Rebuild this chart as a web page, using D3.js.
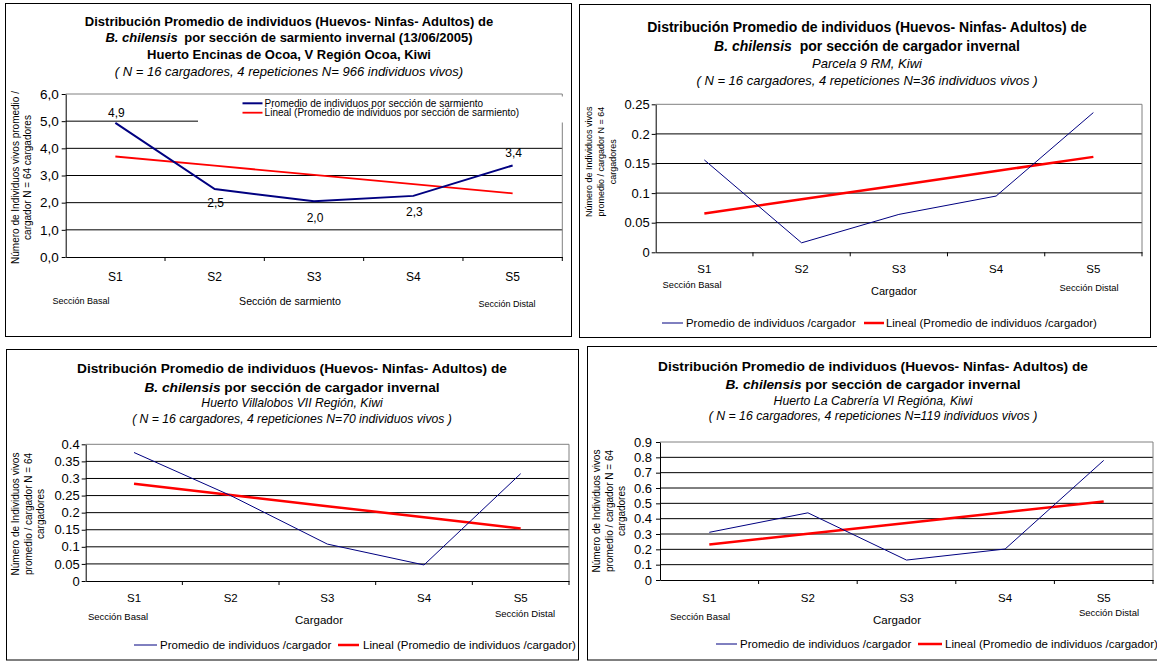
<!DOCTYPE html>
<html><head><meta charset="utf-8">
<script src="https://cdn.jsdelivr.net/npm/d3@7"></script>
<style>
body{margin:0;background:#fff;overflow:hidden}
svg{display:block}
text{font-family:"Liberation Sans",Arial,Helvetica,sans-serif;fill:#000}
</style>
</head><body>
<svg id="c" width="1157" height="661"></svg>
<script>
// ---------- DATA ----------
const categories = ["S1", "S2", "S3", "S4", "S5"];

const valuesOcoa = [4.94, 2.50, 2.05, 2.25, 3.37];
const labelsOcoa = ["4,9", "2,5", "2,0", "2,3", "3,4"];
const ticksOcoa = [0, 1, 2, 3, 4, 5, 6];

const valuesParcela = [0.156, 0.016, 0.064, 0.095, 0.236];
const ticksParcela = [0, 0.05, 0.1, 0.15, 0.2, 0.25];

const valuesVillalobos = [0.376, 0.25, 0.108, 0.047, 0.314];
const ticksVillalobos = [0, 0.05, 0.1, 0.15, 0.2, 0.25, 0.3, 0.35, 0.4];

const valuesCabreria = [0.311, 0.438, 0.13, 0.202, 0.78];
const ticksCabreria = [0, 0.1, 0.2, 0.3, 0.4, 0.5, 0.6, 0.7, 0.8, 0.9];

const titleMain = "Distribución Promedio de individuos (Huevos- Ninfas- Adultos) de";
const speciesName = "B. chilensis";
const yLabelOcoa = ["Número de Individuos vivos promedio /", "cargador N = 64 cargadores"];
const yLabelOther = ["Número de Individuos vivos", "promedio / cargador N = 64", "cargadores"];
const legendOcoa = ["Promedio de individuos por sección de sarmiento", "Lineal (Promedio de individuos por sección de sarmiento)"];
const legendOther = ["Promedio de individuos /cargador", "Lineal (Promedio de individuos /cargador)"];

// ---------- HELPERS ----------
function linearTrend(vals) {
  const xs = vals.map((_, i) => i + 1);
  const mx = d3.mean(xs), my = d3.mean(vals);
  const slope = d3.sum(xs, (x, i) => (x - mx) * (vals[i] - my)) / d3.sum(xs, x => (x - mx) * (x - mx));
  return xs.map(x => my + slope * (x - mx));
}
const fmtComma = d => d.toFixed(1).replace(".", ",");
const fmtPlain = d => String(+d.toFixed(2));

const svg = d3.select("#c");

function drawPanel(c) {
  const g = svg.append("g");
  g.append("rect").attr("x", c.box[0] + 0.5).attr("y", c.box[1] + 0.5)
    .attr("width", c.box[2]).attr("height", c.box[3])
    .attr("fill", "#fff").attr("stroke", "#000").attr("stroke-width", 1);

  // title
  c.title.forEach((ln, i) => {
    const t = g.append("text").attr("x", c.titleX).attr("y", c.titleY[i] + 0.35 * ln.size)
      .attr("text-anchor", "middle").style("font-size", ln.size + "px");
    ln.segs.forEach(s => {
      t.append("tspan").text(s.t)
        .style("font-weight", s.b ? "bold" : "normal")
        .style("font-style", s.i ? "italic" : "normal")
        .attr("dx", s.dx || 0);
    });
  });

  const x = d3.scaleBand().domain(categories).range([c.plot.left, c.plot.right]);
  const y = d3.scaleLinear().domain([0, c.yMax]).range([c.plot.bottom, c.plot.top]);
  const cx = d => x(d) + x.bandwidth() / 2;

  // gridlines
  g.append("g").selectAll("line").data(c.ticks.filter(t => t > 0 && t < c.yMax)).join("line")
    .attr("x1", c.plot.left).attr("x2", c.plot.right)
    .attr("y1", d => y(d)).attr("y2", d => y(d))
    .attr("stroke", "#000").attr("stroke-width", 1);
  // top & right plot border (gray)
  g.append("path").attr("d", `M${c.plot.left},${y(c.yMax)}H${c.plot.right}V${c.plot.bottom}`)
    .attr("fill", "none").attr("stroke", "#808080").attr("stroke-width", 1);

  // y axis
  const ya = g.append("g").attr("transform", `translate(${c.plot.left},0)`)
    .call(d3.axisLeft(y).tickValues(c.ticks).tickFormat(c.fmt).tickSize(4).tickSizeOuter(0).tickPadding(c.yPad));
  ya.selectAll("text").style("font-size", c.tickFs + "px").style("font-family", null);
  ya.selectAll("line,path").attr("stroke", "#000");

  // x axis (labels at band centres)
  const fsX = c.xFs;
  const xa = g.append("g").attr("transform", `translate(0,${c.plot.bottom})`)
    .call(d3.axisBottom(x).tickSize(0).tickSizeOuter(0).tickPadding(c.xLabelCy - c.plot.bottom - 0.36 * fsX));
  xa.selectAll("text").style("font-size", fsX + "px").style("font-family", null);
  xa.select("path").attr("stroke", "#000");
  // boundary tick marks
  const bounds = categories.map(d => x(d)).concat([c.plot.right]).slice(1);
  g.append("g").selectAll("line").data(bounds).join("line")
    .attr("x1", d => d).attr("x2", d => d)
    .attr("y1", c.plot.bottom).attr("y2", c.plot.bottom + 4)
    .attr("stroke", "#000");

  // annotations under axis
  c.notes.forEach(n => {
    g.append("text").attr("x", n.x).attr("y", n.y + 0.35 * n.size).attr("text-anchor", "middle")
      .style("font-size", n.size + "px").text(n.t);
  });

  // y label
  c.yLabel.forEach((t, i) => {
    g.append("text")
      .attr("transform", `translate(${c.yLabelX[i] + 0.35 * c.yLabelFs},${c.yLabelCy}) rotate(-90)`)
      .attr("text-anchor", "middle").style("font-size", c.yLabelFs + "px").text(t);
  });

  // trend line
  const trend = linearTrend(c.values);
  const line = d3.line().x((d, i) => cx(categories[i])).y(d => y(d));
  g.append("path").datum(trend).attr("d", line)
    .attr("fill", "none").attr("stroke", "#ff0000").attr("stroke-width", c.redW);
  // data line
  g.append("path").datum(c.values).attr("d", line)
    .attr("fill", "none").attr("stroke", "#000080").attr("stroke-width", c.blueW)
    .attr("stroke-linejoin", "miter");

  // data labels
  if (c.labels) {
    g.append("g").selectAll("text").data(c.values).join("text")
      .attr("x", (d, i) => cx(categories[i]) + 1)
      .attr("y", (d, i) => y(d) + c.labelDy[i] + 0.35 * c.labelFs)
      .attr("text-anchor", "middle").style("font-size", c.labelFs + "px")
      .text((d, i) => c.labels[i]);
  }

  // legend
  const L = c.legend;
  if (L.box) {
    g.append("rect").attr("x", L.box[0]).attr("y", L.box[1]).attr("width", L.box[2]).attr("height", L.box[3])
      .attr("fill", "#fff");
  }
  L.items.forEach((it, i) => {
    g.append("line").attr("x1", it.x1).attr("x2", it.x2).attr("y1", it.y).attr("y2", it.y)
      .attr("stroke", i === 0 ? "#000080" : "#ff0000").attr("stroke-width", i === 0 ? c.blueW : c.redW);
    g.append("text").attr("x", it.tx).attr("y", it.y + 0.35 * L.size)
      .style("font-size", L.size + "px").text(c.legendText[i]);
  });
}

// ---------- PANEL 1 ----------
drawPanel({
  box: [5, 3, 566, 333],
  plot: {left: 65.7, right: 562.3, top: 94, bottom: 257},
  yMax: 6, ticks: ticksOcoa, fmt: fmtComma, tickFs: 13.5, yPad: 3,
  xFs: 12, xLabelCy: 277,
  values: valuesOcoa, labels: labelsOcoa, labelDy: [-10, 14, 16, 16, -12.5], labelFs: 12,
  titleX: 289, titleY: [21, 37.5, 54.5, 71],
  title: [
    {size: 13, segs: [{t: titleMain, b: true}]},
    {size: 13, segs: [{t: speciesName, b: true, i: true}, {t: " por sección de sarmiento invernal (13/06/2005)", b: true, dx: 3}]},
    {size: 13, segs: [{t: "Huerto Encinas de Ocoa, V Región Ocoa, Kiwi", b: true}]},
    {size: 13, segs: [{t: "( N = 16 cargadores, 4 repeticiones N= 966 individuos vivos)", i: true}]}
  ],
  notes: [
    {t: "Sección Basal", x: 81, y: 301, size: 9},
    {t: "Sección de sarmiento", x: 290, y: 301, size: 10.6},
    {t: "Sección Distal", x: 507, y: 304, size: 9}
  ],
  yLabel: yLabelOcoa, yLabelX: [15.3, 27.5], yLabelCy: 177.5, yLabelFs: 10,
  blueW: 2, redW: 1.8,
  legendText: legendOcoa,
  legend: {size: 10, box: [198, 96.5, 367, 26],
    items: [{x1: 242.5, x2: 262.5, y: 103.3, tx: 264.6}, {x1: 242.5, x2: 262.5, y: 112.7, tx: 264.6}]}
});

// ---------- PANEL 2 ----------
drawPanel({
  box: [579, 4, 571, 333],
  plot: {left: 655.7, right: 1142, top: 104.3, bottom: 252.3},
  yMax: 0.25, ticks: ticksParcela, fmt: fmtPlain, tickFs: 13, yPad: 2,
  xFs: 11.5, xLabelCy: 269,
  values: valuesParcela,
  titleX: 867, titleY: [27.3, 45.7, 63.3, 80],
  title: [
    {size: 14, segs: [{t: titleMain, b: true}]},
    {size: 14, segs: [{t: speciesName, b: true, i: true}, {t: " por sección de cargador invernal", b: true, dx: 4}]},
    {size: 13, segs: [{t: "Parcela 9 RM, Kiwi", i: true}]},
    {size: 13, segs: [{t: "( N = 16 cargadores, 4 repeticiones N=36 individuos vivos )", i: true}]}
  ],
  notes: [
    {t: "Sección Basal", x: 692, y: 285, size: 9.3},
    {t: "Cargador", x: 894, y: 291, size: 11},
    {t: "Sección Distal", x: 1089, y: 288, size: 9.3}
  ],
  yLabel: yLabelOther, yLabelX: [589, 601, 612.7], yLabelCy: 161.7, yLabelFs: 9,
  blueW: 1, redW: 2.5,
  legendText: legendOther,
  legend: {size: 11.4,
    items: [{x1: 662, x2: 683, y: 323, tx: 686}, {x1: 864, x2: 884, y: 323, tx: 886}]}
});

// ---------- PANEL 3 ----------
drawPanel({
  box: [6, 349, 572, 310.5],
  plot: {left: 85.7, right: 569, top: 444.3, bottom: 581},
  yMax: 0.4, ticks: ticksVillalobos, fmt: fmtPlain, tickFs: 13, yPad: 2,
  xFs: 11.5, xLabelCy: 597.7,
  values: valuesVillalobos,
  titleX: 292, titleY: [368, 387, 403, 419],
  title: [
    {size: 13.7, segs: [{t: titleMain, b: true}]},
    {size: 13.7, segs: [{t: speciesName, b: true, i: true}, {t: " por sección de cargador invernal", b: true}]},
    {size: 12.2, segs: [{t: "Huerto Villalobos VII Región, Kiwi", i: true}]},
    {size: 12.2, segs: [{t: "( N = 16 cargadores, 4 repeticiones N=70 individuos vivos )", i: true}]}
  ],
  notes: [
    {t: "Sección Basal", x: 118, y: 617, size: 9.5},
    {t: "Cargador", x: 319, y: 620, size: 11.5},
    {t: "Sección Distal", x: 525, y: 614, size: 9.5}
  ],
  yLabel: yLabelOther, yLabelX: [15.5, 28, 40.5], yLabelCy: 514, yLabelFs: 10,
  blueW: 1, redW: 2.5,
  legendText: legendOther,
  legend: {size: 11.5,
    items: [{x1: 134, x2: 157, y: 645, tx: 160}, {x1: 338, x2: 359, y: 645, tx: 363}]}
});

// ---------- PANEL 4 ----------
drawPanel({
  box: [587, 346, 600, 313.5],
  plot: {left: 660, right: 1153, top: 442, bottom: 580},
  yMax: 0.9, ticks: ticksCabreria, fmt: fmtPlain, tickFs: 13, yPad: 4,
  xFs: 11.5, xLabelCy: 597.7,
  values: valuesCabreria,
  titleX: 873, titleY: [366, 384, 401, 416],
  title: [
    {size: 13.7, segs: [{t: titleMain, b: true}]},
    {size: 13.7, segs: [{t: speciesName, b: true, i: true}, {t: " por sección de cargador invernal", b: true}]},
    {size: 12.3, segs: [{t: "Huerto La Cabrería VI Regióna, Kiwi", i: true}]},
    {size: 12.3, segs: [{t: "( N = 16 cargadores, 4 repeticiones N=119 individuos vivos )", i: true}]}
  ],
  notes: [
    {t: "Sección Basal", x: 700, y: 617, size: 9.5},
    {t: "Cargador", x: 897, y: 620, size: 11.5},
    {t: "Sección Distal", x: 1109, y: 613, size: 9.5}
  ],
  yLabel: yLabelOther, yLabelX: [596.5, 609, 621.5], yLabelCy: 511, yLabelFs: 10,
  blueW: 1, redW: 2.5,
  legendText: legendOther,
  legend: {size: 11.5,
    items: [{x1: 716, x2: 737, y: 644, tx: 740}, {x1: 918, x2: 942, y: 644, tx: 945}]}
});
</script>
</body></html>
